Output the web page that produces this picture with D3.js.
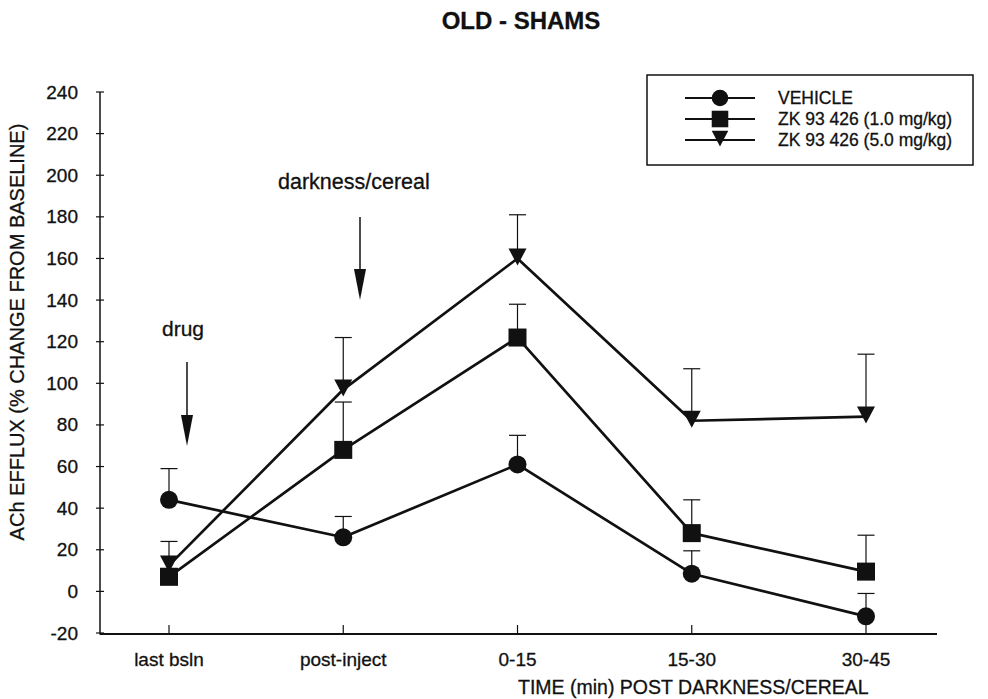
<!DOCTYPE html>
<html>
<head>
<meta charset="utf-8">
<script src="https://cdn.jsdelivr.net/npm/d3@7/dist/d3.min.js"></script>
<style>
  html, body { margin: 0; padding: 0; background: #fff; }
  svg { display: block; }
  text { font-family: "Liberation Sans", Arial, Helvetica, sans-serif; fill: #111; stroke: #111; stroke-width: 0.3px; }
</style>
</head>
<body>
<svg id="chart" width="988" height="699"></svg>
<script>
// Time bins on the x axis
const categories = ["last bsln", "post-inject", "0-15", "15-30", "30-45"];

// Mean ACh efflux (% change from baseline) and upper SEM tips
const vehicleMean = [44, 26, 61, 8.5, -12];
const vehicleUpper = [59, 36, 75, 19.5, -1];
const zk1Mean = [7, 68, 122, 28, 9.5];
const zk1Upper = [11, 91, 138, 44, 27];
const zk5Mean = [12.5, 97, 160, 82, 84];
const zk5Upper = [24, 122, 181, 107, 114];

const yTicks = [-20, 0, 20, 40, 60, 80, 100, 120, 140, 160, 180, 200, 220, 240];
const seriesNames = ["VEHICLE", "ZK 93 426 (1.0 mg/kg)", "ZK 93 426 (5.0 mg/kg)"];
const seriesShapes = ["circle", "square", "triangle"];

const series = [
  { name: seriesNames[0], shape: seriesShapes[0], mean: vehicleMean, upper: vehicleUpper },
  { name: seriesNames[1], shape: seriesShapes[1], mean: zk1Mean, upper: zk1Upper },
  { name: seriesNames[2], shape: seriesShapes[2], mean: zk5Mean, upper: zk5Upper }
];

const svg = d3.select("#chart");
svg.append("rect").attr("width", 988).attr("height", 699).attr("fill", "#fff");

const x = d3.scalePoint().domain(categories).range([169, 866]);
const y = d3.scaleLinear().domain([-20, 240]).range([633, 92]);

const ink = "#111";

// Title
svg.append("text")
  .attr("x", 521).attr("y", 29)
  .attr("text-anchor", "middle")
  .attr("font-size", 24).attr("font-weight", "bold")
  .text("OLD - SHAMS");

// Y axis: plain vertical line with ticks crossing it
const yAxis = svg.append("g");
yAxis.append("line")
  .attr("x1", 100).attr("x2", 100)
  .attr("y1", y(240)).attr("y2", y(-20) + 1.5)
  .attr("stroke", ink).attr("stroke-width", 1.5);
yAxis.selectAll("line.tick").data(yTicks).join("line")
  .attr("class", "tick")
  .attr("x1", 96).attr("x2", 104)
  .attr("y1", d => y(d)).attr("y2", d => y(d))
  .attr("stroke", ink).attr("stroke-width", 1.2);
yAxis.selectAll("text").data(yTicks).join("text")
  .attr("x", 78).attr("y", d => y(d))
  .attr("text-anchor", "end")
  .attr("dominant-baseline", "central")
  .attr("font-size", 19)
  .text(d => d);

// X axis: baseline with short inward ticks
const xAxis = svg.append("g");
xAxis.append("line")
  .attr("x1", 100).attr("x2", 937)
  .attr("y1", y(-20) + 1).attr("y2", y(-20) + 1)
  .attr("stroke", ink).attr("stroke-width", 2);
xAxis.selectAll("line.tick").data(categories).join("line")
  .attr("class", "tick")
  .attr("x1", d => x(d)).attr("x2", d => x(d))
  .attr("y1", y(-20)).attr("y2", y(-20) - 8)
  .attr("stroke", ink).attr("stroke-width", 1.2);
xAxis.selectAll("text").data(categories).join("text")
  .attr("x", d => x(d)).attr("y", 666)
  .attr("text-anchor", "middle")
  .attr("font-size", 19)
  .text(d => d);

// Axis titles
svg.append("text")
  .attr("x", 518).attr("y", 694)
  .attr("font-size", 19.5)
  .text("TIME (min) POST DARKNESS/CEREAL");
svg.append("text")
  .attr("transform", "translate(24,332) rotate(-90)")
  .attr("text-anchor", "middle")
  .attr("font-size", 20)
  .text("ACh EFFLUX (% CHANGE FROM BASELINE)");

// Marker drawing helper
function drawMarker(g, shape, cx, cy, s) {
  if (shape === "circle") {
    g.append("circle").attr("cx", cx).attr("cy", cy).attr("r", 9 * s).attr("fill", ink);
  } else if (shape === "square") {
    g.append("rect")
      .attr("x", cx - 9 * s).attr("y", cy - 9 * s)
      .attr("width", 18 * s).attr("height", 18 * s)
      .attr("fill", ink);
  } else {
    g.append("path")
      .attr("d", `M${cx - 9 * s},${cy - 10 * s}L${cx + 9 * s},${cy - 10 * s}L${cx},${cy + 7 * s}Z`)
      .attr("fill", ink);
  }
}

const plot = svg.append("g");

// Upper error bars
series.forEach(s => {
  const g = plot.append("g");
  s.mean.forEach((m, i) => {
    const cx = x(categories[i]);
    g.append("line")
      .attr("x1", cx).attr("x2", cx)
      .attr("y1", y(m)).attr("y2", y(s.upper[i]))
      .attr("stroke", ink).attr("stroke-width", 1.2);
    g.append("line")
      .attr("x1", cx - 8.5).attr("x2", cx + 8.5)
      .attr("y1", y(s.upper[i])).attr("y2", y(s.upper[i]))
      .attr("stroke", ink).attr("stroke-width", 1.2);
  });
});

// Series lines
const line = d3.line().x((d, i) => x(categories[i])).y(d => y(d));
series.forEach(s => {
  plot.append("path")
    .attr("d", line(s.mean))
    .attr("fill", "none")
    .attr("stroke", ink).attr("stroke-width", 2.7)
    .attr("stroke-linejoin", "round");
});

// Markers
series.forEach(s => {
  const g = plot.append("g");
  s.mean.forEach((m, i) => drawMarker(g, s.shape, x(categories[i]), y(m), 1));
});

// Event annotations with downward arrows
function arrow(cx, yTop, yTip) {
  const g = svg.append("g");
  g.append("line")
    .attr("x1", cx).attr("x2", cx)
    .attr("y1", yTop).attr("y2", yTip - 20)
    .attr("stroke", ink).attr("stroke-width", 1.5);
  g.append("path")
    .attr("d", `M${cx - 6},${yTip - 31}L${cx + 6},${yTip - 31}L${cx},${yTip}Z`)
    .attr("fill", ink);
}
svg.append("text").attr("x", 162).attr("y", 336).attr("font-size", 21).text("drug");
arrow(187, 362, 446);
svg.append("text").attr("x", 278).attr("y", 189).attr("font-size", 21.5).text("darkness/cereal");
arrow(360, 217, 300);

// Legend
const legend = svg.append("g");
legend.append("rect")
  .attr("x", 647).attr("y", 75)
  .attr("width", 326).attr("height", 90)
  .attr("fill", "none").attr("stroke", ink).attr("stroke-width", 1.5);
series.forEach((s, i) => {
  const ly = 98 + i * 21;
  legend.append("line")
    .attr("x1", 685).attr("x2", 755)
    .attr("y1", ly).attr("y2", ly)
    .attr("stroke", ink).attr("stroke-width", 2);
  drawMarker(legend, s.shape, 720, ly, 0.92);
  legend.append("text")
    .attr("x", 778).attr("y", ly + 6)
    .attr("font-size", 17.5)
    .text(s.name);
});
</script>
</body>
</html>
